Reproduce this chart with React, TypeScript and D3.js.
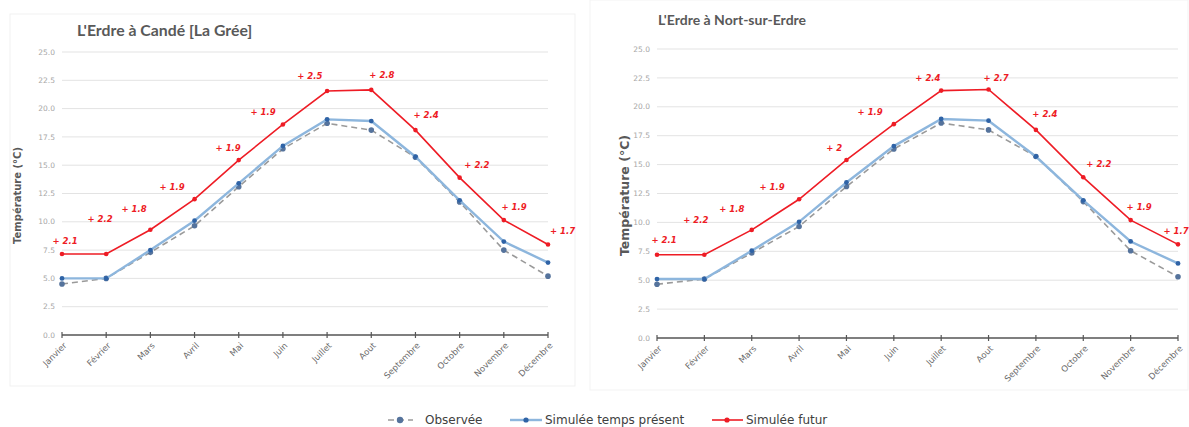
import React from "react";
import * as d3 from "d3";

const months = ["Janvier","Février","Mars","Avril","Mai","Juin","Juillet","Aout","Septembre","Octobre","Novembre","Décembre"];
const yTicks = [0, 2.5, 5, 7.5, 10, 12.5, 15, 17.5, 20, 22.5, 25];

const candeObserved = [4.5, 5.0, 7.3, 9.65, 13.1, 16.45, 18.7, 18.1, 15.7, 11.75, 7.5, 5.2];
const candePresent = [5.0, 5.0, 7.5, 10.1, 13.4, 16.7, 19.05, 18.9, 15.75, 11.9, 8.25, 6.4];
const candeFutur = [7.15, 7.15, 9.3, 12.0, 15.45, 18.6, 21.55, 21.65, 18.1, 13.9, 10.15, 8.0];
const candeDeltas = ["+ 2.1","+ 2.2","+ 1.8","+ 1.9","+ 1.9","+ 1.9","+ 2.5","+ 2.8","+ 2.4","+ 2.2","+ 1.9","+ 1.7"];
const candeLabelMonth = [0.07, 0.86, 1.63, 2.49, 3.76, 4.55, 5.61, 7.24, 8.24, 9.39, 10.23, 11.33];
const candeLabelValue = [8.3, 10.25, 11.1, 13.1, 16.5, 19.7, 22.9, 23.0, 19.4, 15.0, 11.3, 9.2];

const nortObserved = [4.65, 5.1, 7.35, 9.65, 13.1, 16.35, 18.6, 18.0, 15.7, 11.8, 7.55, 5.3];
const nortPresent = [5.1, 5.1, 7.55, 10.05, 13.45, 16.6, 18.95, 18.8, 15.7, 11.9, 8.35, 6.45];
const nortFutur = [7.2, 7.2, 9.35, 12.0, 15.4, 18.5, 21.4, 21.5, 18.0, 13.9, 10.2, 8.1];
const nortDeltas = ["+ 2.1","+ 2.2","+ 1.8","+ 1.9","+ 2","+ 1.9","+ 2.4","+ 2.7","+ 2.4","+ 2.2","+ 1.9","+ 1.7"];
const nortLabelMonth = [0.15, 0.82, 1.58, 2.43, 3.74, 4.5, 5.72, 7.16, 8.19, 9.33, 10.18, 10.96];
const nortLabelValue = [8.5, 10.2, 11.16, 13.06, 16.4, 19.55, 22.5, 22.5, 19.4, 15.05, 11.33, 9.25];

const legendLabels = ["Observée", "Simulée temps présent", "Simulée futur"];

const C = {
  red: "#ee1c25",
  blueLine: "#8db6dd",
  blueDot: "#2f63a6",
  grayDash: "#9a9a9a",
  obsDot: "#55739c",
  grid: "#e3e3e3",
  axis: "#555555",
  tickText: "#a6a6a6",
  text: "#595959",
};
const FONT = "'DejaVu Sans', Verdana, sans-serif";
const TITLE_FONT = "Lato, 'DejaVu Sans', sans-serif";

type ChartProps = {
  title: string;
  titleX: number; titleY: number; titleSize: number;
  yTitleX: number; yTitleSize: number;
  x0: number; x1: number; y0: number; y1: number;
  observed: number[]; present: number[]; futur: number[];
  deltas: string[]; labelMonth: number[]; labelValue: number[];
};

function Chart(p: ChartProps) {
  const idx = d3.range(months.length);
  const x = d3.scaleLinear().domain([0, months.length - 1]).range([p.x0, p.x1]);
  const y = d3.scaleLinear().domain([0, 25]).range([p.y0, p.y1]);
  const line = d3.line<number>().x((_, i) => x(i)).y((d) => y(d));
  const yMid = (p.y0 + p.y1) / 2 + 2;
  return (
    <g>
      <text x={p.titleX} y={p.titleY} fontFamily={TITLE_FONT} fontWeight="bold" fontSize={p.titleSize} fill={C.text}>{p.title}</text>
      <text transform={`translate(${p.yTitleX},${yMid}) rotate(-90)`} textAnchor="middle" fontFamily={FONT} fontWeight="bold" fontSize={p.yTitleSize} fill={C.text}>Température (°C)</text>
      {yTicks.map((t) => (
        <g key={t}>
          {t > 0 && <line x1={p.x0} x2={p.x1} y1={y(t)} y2={y(t)} stroke={C.grid} strokeWidth={1} />}
          <text x={p.x0 - 7} y={y(t)} dy="0.35em" textAnchor="end" fontFamily={FONT} fontSize={7.5} fill={C.tickText}>{t.toFixed(1)}</text>
        </g>
      ))}
      <line x1={p.x0} x2={p.x1} y1={y(0)} y2={y(0)} stroke={C.axis} strokeWidth={1.5} />
      {idx.map((i) => (
        <g key={i}>
          <line x1={x(i)} x2={x(i)} y1={y(0) - 3} y2={y(0) + 3} stroke={C.axis} strokeWidth={1.2} />
          <text transform={`translate(${x(i) + 3},${y(0) + 9}) rotate(-45)`} textAnchor="end" dy="0.35em" fontFamily={FONT} fontSize={8.5} fill="#6a6a6a">{months[i]}</text>
        </g>
      ))}
      <path d={line(p.observed) || ""} fill="none" stroke={C.grayDash} strokeWidth={1.6} strokeDasharray="6,4" />
      {p.observed.map((v, i) => <circle key={"o" + i} cx={x(i)} cy={y(v)} r={2.8} fill={C.obsDot} />)}
      <path d={line(p.present) || ""} fill="none" stroke={C.blueLine} strokeWidth={2.4} />
      {p.present.map((v, i) => <circle key={"p" + i} cx={x(i)} cy={y(v)} r={2.4} fill={C.blueDot} />)}
      <path d={line(p.futur) || ""} fill="none" stroke={C.red} strokeWidth={1.6} />
      {p.futur.map((v, i) => <circle key={"f" + i} cx={x(i)} cy={y(v)} r={2.3} fill={C.red} />)}
      {p.deltas.map((s, i) => (
        <text key={"d" + i} x={x(p.labelMonth[i])} y={y(p.labelValue[i])} dy="0.35em" textAnchor="middle" fontFamily={FONT} fontWeight="bold" fontStyle="italic" fontSize={8.5} fill={C.red}>{s}</text>
      ))}
    </g>
  );
}

export default function App() {
  return (
    <svg width={1189} height={427} style={{ position: "absolute", left: 0, top: 0, background: "#fff" }}>
      <rect x={10} y={14} width={565} height={372} fill="#fff" stroke="#f1f1f1" />
      <rect x={590} y={0} width={598} height={390} fill="#fff" stroke="#f3f3f3" />
      <Chart title="L'Erdre à Candé [La Grée]" titleX={77} titleY={36} titleSize={15.8} yTitleX={21} yTitleSize={10}
        x0={62} x1={548} y0={335} y1={52}
        observed={candeObserved} present={candePresent} futur={candeFutur}
        deltas={candeDeltas} labelMonth={candeLabelMonth} labelValue={candeLabelValue} />
      <Chart title="L'Erdre à Nort-sur-Erdre" titleX={658} titleY={25} titleSize={14} yTitleX={629} yTitleSize={12.5}
        x0={657} x1={1178} y0={338} y1={49}
        observed={nortObserved} present={nortPresent} futur={nortFutur}
        deltas={nortDeltas} labelMonth={nortLabelMonth} labelValue={nortLabelValue} />
      <g fontFamily={FONT} fontSize={12} fill="#404040">
        <line x1={388} x2={413} y1={420} y2={420} stroke={C.grayDash} strokeWidth={1.6} strokeDasharray="6,4" />
        <circle cx={400} cy={420} r={3.2} fill={C.obsDot} />
        <text x={425} y={420} dy="0.35em">{legendLabels[0]}</text>
        <line x1={510} x2={542} y1={420} y2={420} stroke={C.blueLine} strokeWidth={2.4} />
        <circle cx={526} cy={420} r={2.6} fill={C.blueDot} />
        <text x={545} y={420} dy="0.35em">{legendLabels[1]}</text>
        <line x1={712} x2={743} y1={420} y2={420} stroke={C.red} strokeWidth={1.6} />
        <circle cx={727} cy={420} r={2.6} fill={C.red} />
        <text x={746} y={420} dy="0.35em">{legendLabels[2]}</text>
      </g>
    </svg>
  );
}
